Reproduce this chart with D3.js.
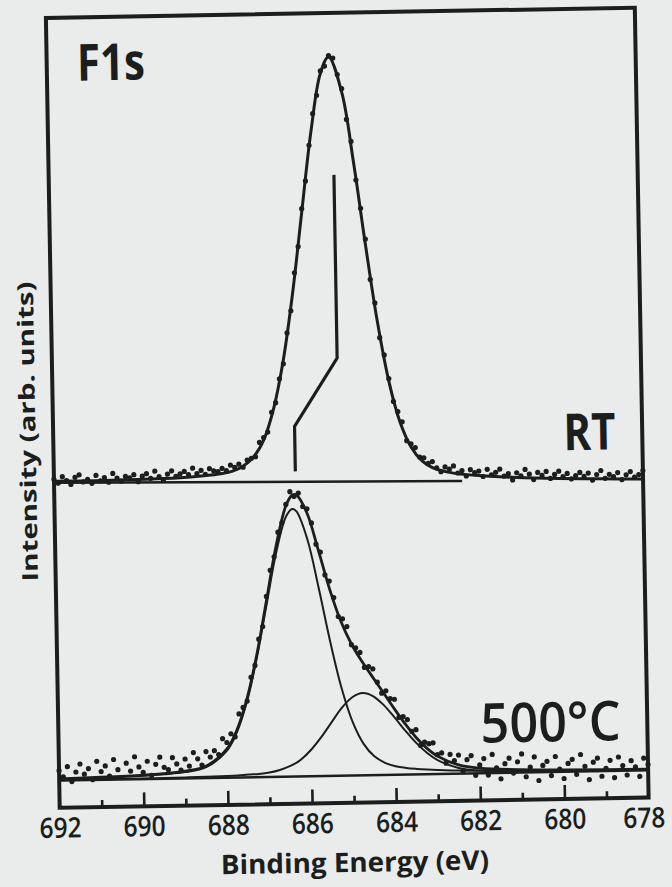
<!DOCTYPE html>
<html><head><meta charset="utf-8">
<script src="https://cdn.jsdelivr.net/npm/d3@7"></script>
<style>
html,body{margin:0;padding:0;background:#e9eceb;}
svg{display:block;}
</style></head><body>
<svg id="chart" width="672" height="887"></svg>
<script>
// ---------- data (binding energy in eV, intensity in arbitrary units) ----------
const energy = [
692.0,691.9,691.8,691.7,691.6,691.5,691.4,691.3,691.2,691.1,
691.0,690.9,690.8,690.7,690.6,690.5,690.4,690.3,690.2,690.1,
690.0,689.9,689.8,689.7,689.6,689.5,689.4,689.3,689.2,689.1,
689.0,688.9,688.8,688.7,688.6,688.5,688.4,688.3,688.2,688.1,
688.0,687.9,687.8,687.7,687.6,687.5,687.4,687.3,687.2,687.1,
687.0,686.9,686.8,686.7,686.6,686.5,686.4,686.3,686.2,686.1,
686.0,685.9,685.8,685.7,685.6,685.5,685.4,685.3,685.2,685.1,
685.0,684.9,684.8,684.7,684.6,684.5,684.4,684.3,684.2,684.1,
684.0,683.9,683.8,683.7,683.6,683.5,683.4,683.3,683.2,683.1,
683.0,682.9,682.8,682.7,682.6,682.5,682.4,682.3,682.2,682.1,
682.0,681.9,681.8,681.7,681.6,681.5,681.4,681.3,681.2,681.1,
681.0,680.9,680.8,680.7,680.6,680.5,680.4,680.3,680.2,680.1,
680.0,679.9,679.8,679.7,679.6,679.5,679.4,679.3,679.2,679.1,
679.0,678.9,678.8,678.7,678.6,678.5,678.4,678.3,678.2,678.1,
678.0];

const rtCounts = [
416,411,419,414,409,418,421,412,415,410,
420,413,417,411,422,416,412,418,416,420,
411,418,421,415,424,417,412,420,424,417,
420,423,419,427,420,424,419,426,423,422,
426,423,430,427,431,427,436,438,440,458,
464,471,496,508,538,557,596,624,672,705,
753,788,833,873,896,927,933,946,943,922,
904,865,837,788,752,713,662,632,588,566,
536,507,494,481,457,453,448,436,435,428,
430,422,417,423,420,424,415,418,411,419,
415,417,410,419,412,415,419,410,413,405,
414,410,418,412,405,414,410,415,406,411,
415,408,412,405,409,413,408,412,403,410,
415,405,410,407,412,403,409,413,406,409,
414];

const hotCounts = [
47,39,52,33,45,55,42,49,35,58,
45,52,39,60,47,37,55,45,63,50,
43,57,39,53,62,49,46,61,53,45,
59,50,67,59,51,68,61,69,64,84,
79,90,86,115,123,131,161,176,209,225,
263,296,313,344,356,379,395,389,393,376,
373,355,328,318,289,281,260,236,233,223,
200,196,190,171,172,169,152,138,141,131,
130,107,108,104,89,91,71,75,73,74,
59,61,48,59,51,58,38,52,57,32,
45,53,32,58,41,27,46,53,34,48,
58,29,41,54,24,43,48,30,54,38,
26,45,50,31,56,41,24,46,51,28,
38,48,26,52,41,29,47,39,27,50,
42];

// fitted curve, RT
const fitRTEnergy = [692,691,690,689,688.5,688,687.75,687.5,687.25,687,686.75,686.5,686.25,686,685.75,685.5,685.3,685,684.75,684.5,684.25,684,683.75,683.5,683.25,683,682.5,682,681,680,679,678];
const fitRTValue  = [413.3,413.3,413.7,415.0,416.7,419.5,422.4,428.4,439.7,461.0,500.6,561.8,646.8,748.9,850.1,923.9,944.4,899.2,810.6,705.8,608.7,532.5,480.5,449.0,431.5,422.4,414.9,411.8,408.1,405.9,404.5,403.3];

// fitted curves, 500 °C (envelope and two components)
const fitHotEnergy = [692,691,690,689.5,689,688.5,688,687.75,687.5,687.25,687,686.75,686.5,686.35,686.25,686,685.75,685.5,685.25,685,684.75,684.5,684.25,684,683.75,683.5,683.25,683,682.5,682,681,680,679,678];
const fitHotEnvelope = [36.7,37.8,39.5,41.1,43.6,49.7,70.8,95.3,134.7,190.0,257.9,326.6,377.2,390.5,391.0,367.4,321.0,271.8,231.1,200.9,178.2,157.9,137.8,117.5,98.2,81.2,67.4,57.1,45.6,41.0,38.0,37.0,36.3,35.9];
const fitHotMain     = [36.3,37.2,38.7,40.1,42.4,48.2,68.7,92.7,131.3,186.0,252.4,318.1,363.7,373.0,370.0,333.9,271.5,203.8,145.1,101.9,74.2,58.2,49.8,45.3,42.9,41.4,40.3,39.5,38.4,37.6,36.5,36.0,35.6,35.4];
const fitHotMinor    = [34.9,35.1,35.3,35.5,35.7,36.0,36.6,37.1,37.9,38.5,40.0,43.0,48.0,52.0,55.5,68.0,84.0,102.5,120.5,133.5,138.5,134.2,122.5,106.7,89.8,74.3,61.6,52.1,41.7,37.9,36.0,35.5,35.2,35.0];

// straight backgrounds
const baseRTEnergy = [692, 682.3];
const baseRTValue  = [411.5, 404.7];
const baseHotEnergy = [692, 678];
const baseHotValue  = [34.5, 34.5];

// peak-shift marker
const shiftEnergy = [685.22, 685.22, 686.26, 686.26];
const shiftValue  = [795, 563, 477.5, 420.6];

// axis
const majorTicks = [690, 688, 686, 684, 682, 680];
const minorTicks = [691, 689, 687, 685, 683, 681, 679];
const tickLabels = [692, 690, 688, 686, 684, 682, 680, 678];

// ---------- drawing ----------
const W = 672, H = 887;
const ink = '#1b1e1c';
const font = "'Open Sans', 'DejaVu Sans', sans-serif";
const frame = {left: 52.75, right: 641.75, top: 12.75, bottom: 802.75};

const x = d3.scaleLinear().domain([692, 678]).range([frame.left, frame.right]);
const y = d3.scaleLinear().domain([0, 1000]).range([frame.bottom, frame.top]);

const svg = d3.select('#chart');
svg.append('rect').attr('width', W).attr('height', H).attr('fill', '#e9eceb');

// the scanned figure is slightly rotated
const g = svg.append('g').attr('transform', 'rotate(-1,347.25,407.75)');

const zip = (a, b) => a.map((v, i) => [v, b[i]]);
const smooth = d3.line().x(d => x(d[0])).y(d => y(d[1])).curve(d3.curveCatmullRom.alpha(0.5));
const straight = d3.line().x(d => x(d[0])).y(d => y(d[1]));

// backgrounds
g.append('path').attr('d', straight(zip(baseRTEnergy, baseRTValue)))
  .attr('fill', 'none').attr('stroke', ink).attr('stroke-width', 2.5);
g.append('path').attr('d', straight(zip(baseHotEnergy, baseHotValue)))
  .attr('fill', 'none').attr('stroke', ink).attr('stroke-width', 2.5);

// components
[fitHotMain, fitHotMinor].forEach(c => {
  g.append('path').attr('d', smooth(zip(fitHotEnergy, c)))
    .attr('fill', 'none').attr('stroke', ink).attr('stroke-width', 2);
});

// fit envelopes
g.append('path').attr('d', smooth(zip(fitRTEnergy, fitRTValue)))
  .attr('fill', 'none').attr('stroke', ink).attr('stroke-width', 3);
g.append('path').attr('d', smooth(zip(fitHotEnergy, fitHotEnvelope)))
  .attr('fill', 'none').attr('stroke', ink).attr('stroke-width', 2.8);

// data points
g.append('g').selectAll('circle').data(zip(energy, rtCounts)).join('circle')
  .attr('cx', d => x(d[0])).attr('cy', d => y(d[1])).attr('r', 2.6).attr('fill', ink);
g.append('g').selectAll('circle').data(zip(energy, hotCounts)).join('circle')
  .attr('cx', d => x(d[0])).attr('cy', d => y(d[1])).attr('r', 2.6).attr('fill', ink);

// shift marker
g.append('path').attr('d', straight(zip(shiftEnergy, shiftValue)))
  .attr('fill', 'none').attr('stroke', ink).attr('stroke-width', 3.2).attr('stroke-linejoin', 'miter');

// frame
g.append('rect').attr('x', frame.left).attr('y', frame.top)
  .attr('width', frame.right - frame.left).attr('height', frame.bottom - frame.top)
  .attr('fill', 'none').attr('stroke', ink).attr('stroke-width', 4);

// ticks (pointing inward from the bottom edge)
function tickMarks(values, size) {
  const a = g.append('g').attr('transform', `translate(0,${frame.bottom})`)
    .call(d3.axisTop(x).tickValues(values).tickSize(size).tickFormat(''));
  a.select('.domain').remove();
  a.selectAll('line').attr('stroke', ink).attr('stroke-width', 2.6);
}
tickMarks(majorTicks, 14);
tickMarks(minorTicks, 7);

// tick labels
const la = g.append('g').attr('transform', `translate(0,${frame.bottom})`)
  .call(d3.axisBottom(x).tickValues(tickLabels).tickSize(0).tickPadding(10).tickFormat(d3.format('d')));
la.select('.domain').remove();
la.selectAll('text')
  .attr('font-family', font).attr('font-size', 28).attr('font-weight', 600)
  .attr('fill', ink).attr('textLength', 42).attr('lengthAdjust', 'spacingAndGlyphs');
// last label sits at the page edge: anchor it by its end so it stays inside
la.selectAll('text').filter(d => d === tickLabels[tickLabels.length - 1])
  .attr('text-anchor', 'end').attr('x', 16);

// texts
function label(txt, px, py, size, len, anchor, weight) {
  return g.append('text').text(txt).attr('x', px).attr('y', py)
    .attr('font-family', font).attr('font-size', size).attr('font-weight', weight || 700)
    .attr('fill', ink).attr('text-anchor', anchor)
    .attr('textLength', len).attr('lengthAdjust', 'spacingAndGlyphs');
}
label('F1s', 83, 76, 51, 68, 'start');
label('RT', 615, 454, 51, 52, 'end');
label('500°C', 615, 745, 55, 140, 'end', 600);
label('Binding Energy (eV)', 347, 872, 27, 268, 'middle');

g.append('text').text('Intensity (arb. units)')
  .attr('transform', 'translate(35,426) rotate(-90)')
  .attr('font-family', font).attr('font-size', 22).attr('font-weight', 700)
  .attr('fill', ink).attr('text-anchor', 'middle')
  .attr('textLength', 300).attr('lengthAdjust', 'spacingAndGlyphs');
</script>
</body></html>
